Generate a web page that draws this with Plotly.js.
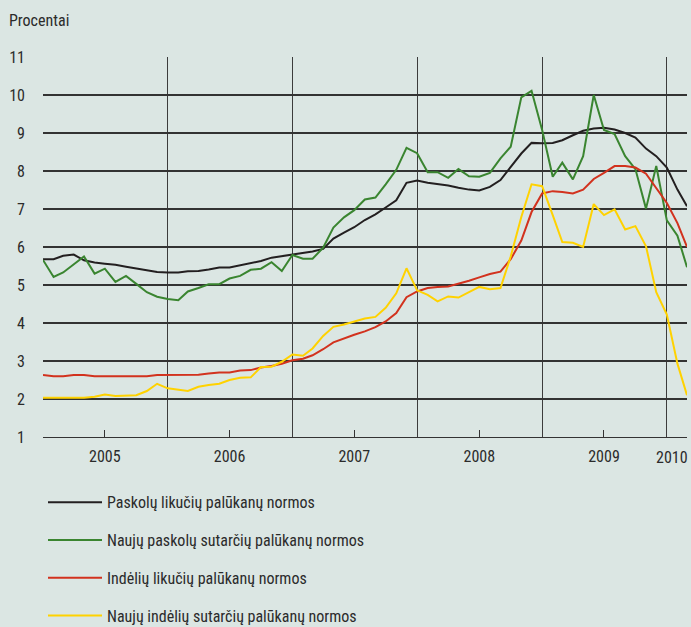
<!DOCTYPE html>
<html>
<head>
<meta charset="utf-8">
<script src="https://cdn.plot.ly/plotly-3.0.1.min.js"></script>
<style>
  html, body { margin: 0; padding: 0; background: #dbe6e3; }
  #chart { width: 691px; height: 627px; }
</style>
</head>
<body>
<div id="chart"></div>
<script>
// Monthly observations: January 2005 – March 2010
const startYear = 2005;
const monthCount = 63;

const seriesNames = [
  "Paskolų likučių palūkanų normos",
  "Naujų paskolų sutarčių palūkanų normos",
  "Indėlių likučių palūkanų normos",
  "Naujų indėlių sutarčių palūkanų normos"
];

const loanBalances = [
  5.68, 5.68, 5.77, 5.80, 5.65, 5.59, 5.56, 5.53, 5.48, 5.44, 5.39,
  5.34, 5.33, 5.33, 5.36, 5.37, 5.41, 5.46, 5.46, 5.52, 5.56,
  5.63, 5.72, 5.76, 5.81, 5.85, 5.88, 5.95, 6.22, 6.38, 6.52,
  6.71, 6.86, 7.04, 7.23, 7.69, 7.75, 7.69, 7.66, 7.62, 7.56,
  7.51, 7.49, 7.58, 7.76, 8.11, 8.46, 8.74, 8.73, 8.74, 8.81,
  8.94, 9.06, 9.12, 9.14, 9.09, 9.00, 8.88, 8.59, 8.39, 8.09,
  7.51, 7.07
];

const newLoans = [
  5.66, 5.21, 5.33, 5.55, 5.75, 5.30, 5.43, 5.08, 5.24, 5.03, 4.81,
  4.69, 4.63, 4.60, 4.83, 4.92, 5.02, 5.02, 5.17, 5.24, 5.40,
  5.43, 5.60, 5.37, 5.79, 5.69, 5.69, 5.98, 6.51, 6.78, 6.97,
  7.25, 7.30, 7.65, 8.03, 8.61, 8.47, 7.97, 7.97, 7.82, 8.05,
  7.86, 7.85, 7.95, 8.33, 8.64, 9.94, 10.11, 9.08, 7.85, 8.22,
  7.78, 8.39, 10.00, 9.08, 8.97, 8.39, 8.05, 7.01, 8.13, 6.70,
  6.30, 5.47
];

const depositBalances = [
  2.63, 2.60, 2.60, 2.63, 2.63, 2.60, 2.60, 2.60, 2.60, 2.60, 2.60,
  2.63, 2.63, 2.63, 2.63, 2.64, 2.67, 2.70, 2.70, 2.75, 2.76,
  2.83, 2.87, 2.93, 3.02, 3.06, 3.15, 3.31, 3.49, 3.60, 3.69,
  3.78, 3.89, 4.04, 4.26, 4.68, 4.83, 4.92, 4.95, 4.96, 5.03,
  5.11, 5.20, 5.29, 5.35, 5.68, 6.17, 6.92, 7.41, 7.47, 7.45,
  7.41, 7.51, 7.79, 7.95, 8.13, 8.13, 8.09, 7.93, 7.56, 7.16,
  6.63, 6.00
];

const newDeposits = [
  2.03, 2.03, 2.03, 2.03, 2.03, 2.06, 2.12, 2.08, 2.10, 2.10, 2.21,
  2.40, 2.28, 2.24, 2.21, 2.32, 2.37, 2.40, 2.50, 2.56, 2.57,
  2.84, 2.85, 2.98, 3.17, 3.14, 3.33, 3.66, 3.90, 3.96, 4.04,
  4.12, 4.16, 4.40, 4.78, 5.44, 4.86, 4.74, 4.57, 4.70, 4.67,
  4.82, 4.95, 4.89, 4.92, 5.75, 6.79, 7.65, 7.60, 6.84, 6.13,
  6.11, 6.00, 7.13, 6.84, 6.99, 6.46, 6.55, 6.02, 4.81, 4.22,
  2.93, 2.10
];

const yearLabels = ["2005", "2006", "2007", "2008", "2009"];
const yearTickDates = ["2005-07-01", "2006-07-01", "2007-07-01", "2008-07-01", "2009-07-01"];
const yearBoundaries = ["2006-01-01", "2007-01-01", "2008-01-01", "2009-01-01", "2010-01-01"];
const lastYearLabel = "2010";

const colors = ["#231f20", "#3a8530", "#d2321e", "#ffd200"];

// Build month dates
const dates = [];
for (let i = 0; i < monthCount; i++) {
  const y = startYear + Math.floor(i / 12);
  const m = (i % 12) + 1;
  dates.push(y + "-" + String(m).padStart(2, "0") + "-01");
}

const FONT = "'Liberation Sans Narrow', 'Arial Narrow', 'Roboto Condensed', 'DejaVu Sans Condensed', sans-serif";
const allSeries = [loanBalances, newLoans, depositBalances, newDeposits];

const traces = allSeries.map((vals, k) => ({
  type: "scatter",
  mode: "lines",
  x: dates,
  y: vals,
  name: seriesNames[k],
  legendgroup: "g" + k,
  line: { color: colors[k], width: 2 },
  hoverinfo: "skip"
}));

const layout = {
  width: 691,
  height: 627,
  paper_bgcolor: "#dbe6e3",
  plot_bgcolor: "#dbe6e3",
  margin: { l: 43, r: 4, t: 57, b: 190, autoexpand: false },
  font: { family: FONT, size: 16, color: "#2b2b2b" },
  showlegend: true,
  legend: {
    x: 0.0, xanchor: "left",
    y: -0.127, yanchor: "top",
    orientation: "v",
    bgcolor: "rgba(0,0,0,0)",
    font: { family: FONT, size: 16, color: "#2b2b2b" },
    itemwidth: 54,
    tracegroupgap: 14,
    traceorder: "grouped"
  },
  xaxis: {
    type: "date",
    range: [dates[0], dates[dates.length - 1]],
    tickmode: "array",
    tickvals: yearTickDates,
    ticktext: yearLabels,
    ticks: "inside",
    ticklen: 7,
    tickwidth: 1,
    tickcolor: "#333333",
    showgrid: false,
    showline: true,
    linecolor: "#333333",
    linewidth: 1.2,
    zeroline: false,
    tickfont: { family: FONT, size: 16, color: "#2b2b2b" },
    ticklabelstandoff: 5,
    minor: {
      tickmode: "array",
      tickvals: yearBoundaries,
      showgrid: true,
      gridcolor: "#3c3c3c",
      gridwidth: 1.2,
      ticks: ""
    },
    fixedrange: true
  },
  yaxis: {
    range: [1, 11],
    tick0: 1,
    dtick: 1,
    showgrid: true,
    gridcolor: "#333333",
    gridwidth: 1.2,
    zeroline: false,
    showline: false,
    ticks: "",
    tickfont: { family: FONT, size: 16, color: "#2b2b2b" },
    ticklabelstandoff: 17,
    fixedrange: true
  },
  annotations: [
    {
      text: "Procentai",
      xref: "paper", yref: "paper",
      x: -0.056, y: 1.097,
      xanchor: "left", yanchor: "middle",
      showarrow: false,
      font: { family: FONT, size: 16, color: "#2b2b2b" }
    },
    {
      text: lastYearLabel,
      xref: "x", yref: "paper",
      x: "2010-01-16", y: -0.023,
      xanchor: "center", yanchor: "top",
      showarrow: false,
      font: { family: FONT, size: 16, color: "#2b2b2b" }
    }
  ]
};

Plotly.newPlot("chart", traces, layout, { displayModeBar: false, staticPlot: true });
</script>
</body>
</html>
